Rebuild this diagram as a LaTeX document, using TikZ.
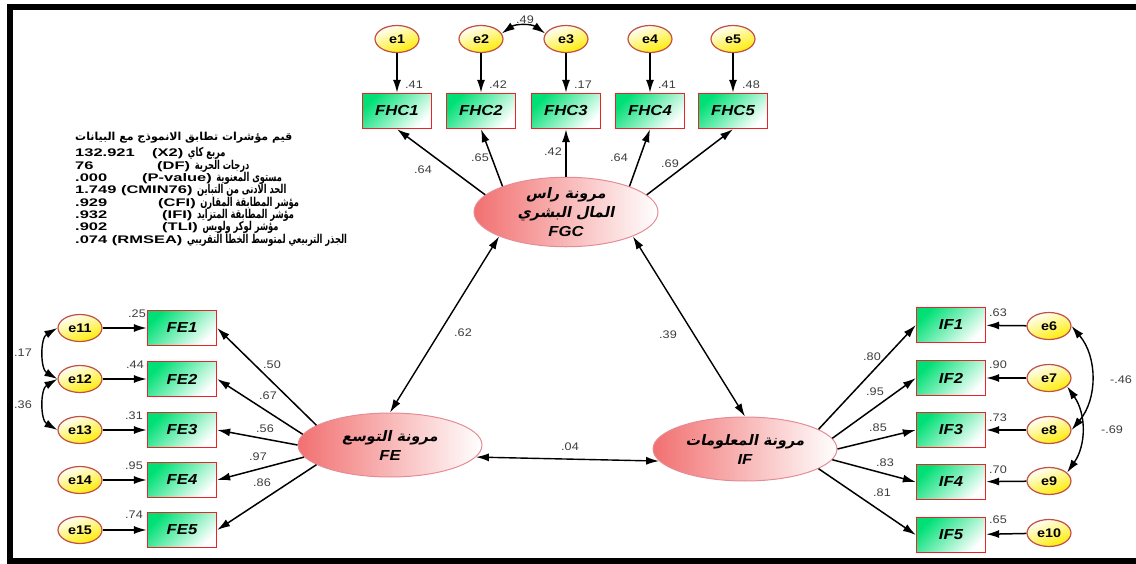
\documentclass[tikz,border=0pt]{standalone}
\usepackage{fontspec}
\setmainfont{Liberation Sans}
\newfontfamily\varfont[FakeStretch=1.15]{Liberation Sans}
\newfontfamily\fitfont[FakeStretch=1.5]{Liberation Sans}
\newfontfamily\arabicfont[Script=Arabic]{DejaVu Sans Bold}
\newfontfamily\arabicnarrow[Script=Arabic,FakeStretch=0.68]{DejaVu Sans Bold}
\newfontfamily\arabicslant[Script=Arabic,FakeSlant=0.2]{DejaVu Sans Bold}
\TeXXeTstate=1
\usetikzlibrary{arrows.meta, shapes.geometric}

\definecolor{boxgreen}{RGB}{0,224,118}
\definecolor{boxred}{RGB}{232,36,40}
\definecolor{erryellow}{RGB}{255,236,0}
\definecolor{errline}{RGB}{192,80,72}
\definecolor{latpink}{RGB}{242,112,112}
\definecolor{latline}{RGB}{228,140,150}
\definecolor{numgray}{RGB}{60,60,60}

\newcommand{\artxt}[1]{{\arabicfont\mdseries\upshape\beginR #1\endR}}
\newcommand{\arnarrow}[1]{{\arabicnarrow\mdseries\upshape\fontsize{12.2}{12}\selectfont\beginR #1\endR}}
\newcommand{\arslant}[1]{{\arabicslant\mdseries\upshape\beginR #1\endR}}

\begin{document}
\begin{tikzpicture}[x=1pt, y=-1pt, >={Latex[length=13pt,width=8pt]},
    errvar/.style={ellipse, draw=errline, line width=1.2pt, top color=white, bottom color=erryellow, shading angle=20, minimum width=44pt, minimum height=27pt, inner sep=0pt, font=\varfont\bfseries\fontsize{12.5}{13}\selectfont},
    obsvar/.style={rectangle, draw=boxred, line width=1.3pt, left color=boxgreen, right color=white, shading angle=45, minimum width=69pt, minimum height=35pt, inner sep=0pt, font=\varfont\bfseries\itshape\fontsize{14.5}{15}\selectfont},
    latvar/.style={ellipse, draw=latline, line width=1pt, left color=latpink, right color=white, minimum width=184pt, minimum height=64pt, inner sep=0pt, align=center, font=\varfont\bfseries\itshape\fontsize{14.5}{19}\selectfont},
    est/.style={font=\varfont\fontsize{11}{12}\selectfont, text=numgray, inner sep=0pt},
    fitline/.style={anchor=base west, inner sep=0pt, font=\fitfont\bfseries\fontsize{11}{12}\selectfont},
    arr/.style={->, line width=1.5pt},
    cov/.style={<->, line width=1.4pt}]
    \useasboundingbox (0,0) rectangle (1136,564);
    % Frame
    \draw[line width=6pt] (1136,7) -- (10,7) -- (10,561) -- (1136,561);

    % Fit indices
    \node[fitline] (fit0) at (75,141) {\artxt{قيم مؤشرات تطابق الانموذج مع البيانات}};
    \node[fitline] (fit1) at (75,157) {\makebox[77pt][l]{132.921}(X2) \arnarrow{مربع كاي}};
    \node[fitline] (fit2) at (75,169.3) {\makebox[82pt][l]{76}(DF) \arnarrow{درجات الحرية}};
    \node[fitline] (fit3) at (75,181.6) {\makebox[67pt][l]{.000}(P-value) \arnarrow{مستوى المعنوية}};
    \node[fitline] (fit4) at (75,193.9) {1.749 (CMIN76) \arnarrow{الحد الادنى من التباين}};
    \node[fitline] (fit5) at (75,206.2) {\makebox[83pt][l]{.929}(CFI) \arnarrow{مؤشر المطابقة المقارن}};
    \node[fitline] (fit6) at (75,218.5) {\makebox[87pt][l]{.932}(IFI) \arnarrow{مؤشر المطابقة المتزايد}};
    \node[fitline] (fit7) at (75,230.8) {\makebox[87pt][l]{.902}(TLI) \arnarrow{مؤشر لوكر ولويس}};
    \node[fitline] (fit8) at (75,243.1) {.074 (RMSEA) \arnarrow{الجذر التربيعي لمتوسط الخطأ التقريبي}};

    % Latent variables
    \node[latvar] (FGC) at (566,212) {\arslant{مرونة راس}\\\arslant{المال البشري}\\FGC};
    \node[latvar] (FE) at (390,445) {\arslant{مرونة التوسع}\\FE};
    \node[latvar] (IF) at (745,449) {\arslant{مرونة المعلومات}\\IF};

    % Indicators of FGC with their errors
    \node[errvar] (e1) at (397,39) {e1};
    \node[errvar] (e2) at (481,39) {e2};
    \node[errvar] (e3) at (566,39) {e3};
    \node[errvar] (e4) at (650,39) {e4};
    \node[errvar] (e5) at (733,39) {e5};
    \node[obsvar] (FHC1) at (397,111) {FHC1};
    \node[obsvar] (FHC2) at (481,111) {FHC2};
    \node[obsvar] (FHC3) at (566,111) {FHC3};
    \node[obsvar] (FHC4) at (650,111) {FHC4};
    \node[obsvar] (FHC5) at (733,111) {FHC5};
    \draw[arr] (e1) -- (FHC1);
    \draw[arr] (e2) -- (FHC2);
    \draw[arr] (e3) -- (FHC3);
    \draw[arr] (e4) -- (FHC4);
    \draw[arr] (e5) -- (FHC5);
    \node[est] (r1) at (414,85) {.41};
    \node[est] (r2) at (498,85) {.42};
    \node[est] (r3) at (583,85) {.17};
    \node[est] (r4) at (667,85) {.41};
    \node[est] (r5) at (751,85) {.48};
    \draw[cov] (e2.15) to[bend left=35] (e3.165);
    \node[est] (c23) at (525,20) {.49};
    \draw[arr] (FGC.168) -- (FHC1.south);
    \draw[arr] (FGC.158) -- (FHC2.south);
    \draw[arr] (FGC.north) -- (FHC3.south);
    \draw[arr] (FGC.22) -- (FHC4.south);
    \draw[arr] (FGC.12) -- (FHC5.south);
    \node[est] (w1) at (423,170) {.64};
    \node[est] (w2) at (480,158) {.65};
    \node[est] (w3) at (553,152) {.42};
    \node[est] (w4) at (619,158) {.64};
    \node[est] (w5) at (670,164) {.69};

    % Indicators of FE with their errors
    \node[errvar] (e11) at (80,328) {e11};
    \node[errvar] (e12) at (80,379) {e12};
    \node[errvar] (e13) at (80,430) {e13};
    \node[errvar] (e14) at (80,480) {e14};
    \node[errvar] (e15) at (80,530) {e15};
    \node[obsvar] (FE1) at (182,328) {FE1};
    \node[obsvar] (FE2) at (182,379) {FE2};
    \node[obsvar] (FE3) at (182,430) {FE3};
    \node[obsvar] (FE4) at (182,480) {FE4};
    \node[obsvar] (FE5) at (182,530) {FE5};
    \draw[arr] (e11) -- (FE1);
    \draw[arr] (e12) -- (FE2);
    \draw[arr] (e13) -- (FE3);
    \draw[arr] (e14) -- (FE4);
    \draw[arr] (e15) -- (FE5);
    \node[est] (r11) at (137,314) {.25};
    \node[est] (r12) at (135,365) {.44};
    \node[est] (r13) at (134,416) {.31};
    \node[est] (r14) at (134,466) {.95};
    \node[est] (r15) at (134,515) {.74};
    \draw[cov] (e11.west) to[bend right=60] (e12.west);
    \draw[cov] (e12.west) to[bend right=60] (e13.west);
    \node[est] (c1112) at (23,353) {.17};
    \node[est] (c1213) at (23,405) {.36};
    \draw[arr] (FE.165) -- (FE1.east);
    \draw[arr] (FE.173) -- (FE2.east);
    \draw[arr] (FE.180) -- (FE3.east);
    \draw[arr] (FE.188) -- (FE4.east);
    \draw[arr] (FE.195) -- (FE5.east);
    \node[est] (w11) at (272,365) {.50};
    \node[est] (w12) at (268,396) {.67};
    \node[est] (w13) at (265,429) {.56};
    \node[est] (w14) at (258,457) {.97};
    \node[est] (w15) at (262,483) {.86};

    % Indicators of IF with their errors
    \node[errvar] (e6) at (1049,326) {e6};
    \node[errvar] (e7) at (1049,378) {e7};
    \node[errvar] (e8) at (1049,430) {e8};
    \node[errvar] (e9) at (1049,481) {e9};
    \node[errvar] (e10) at (1049,533) {e10};
    \node[obsvar] (IF1) at (951,325) {IF1};
    \node[obsvar] (IF2) at (951,378) {IF2};
    \node[obsvar] (IF3) at (951,430) {IF3};
    \node[obsvar] (IF4) at (951,482) {IF4};
    \node[obsvar] (IF5) at (951,535) {IF5};
    \draw[arr] (e6) -- (IF1);
    \draw[arr] (e7) -- (IF2);
    \draw[arr] (e8) -- (IF3);
    \draw[arr] (e9) -- (IF4);
    \draw[arr] (e10) -- (IF5);
    \node[est] (r6) at (998,313) {.63};
    \node[est] (r7) at (998,365) {.90};
    \node[est] (r8) at (998,418) {.73};
    \node[est] (r9) at (998,470) {.70};
    \node[est] (r10) at (998,520) {.65};
    \draw[cov] (e6.east) to[bend left=40] (e8.east);
    \draw[cov] (e7.-25) to[bend left=35] (e9.25);
    \node[est] (c68) at (1121,380) {-.46};
    \node[est] (c79) at (1112,430) {-.69};
    \draw[arr] (IF.15) -- (IF1.west);
    \draw[arr] (IF.7) -- (IF2.west);
    \draw[arr] (IF.0) -- (IF3.west);
    \draw[arr] (IF.353) -- (IF4.west);
    \draw[arr] (IF.345) -- (IF5.west);
    \node[est] (w6) at (872,357) {.80};
    \node[est] (w7) at (875,392) {.95};
    \node[est] (w8) at (878,428) {.85};
    \node[est] (w9) at (885,463) {.83};
    \node[est] (w10) at (882,493) {.81};

    % Correlations between the latent variables
    \draw[cov] (FGC.200) -- (FE.north);
    \node[est] (c1) at (463,333) {.62};
    \draw[cov] (FGC.340) -- (IF.north);
    \node[est] (c2) at (668,335) {.39};
    \draw[cov] (FE.352) -- (IF.188);
    \node[est] (c3) at (570,447) {.04};
\end{tikzpicture}
\end{document}
